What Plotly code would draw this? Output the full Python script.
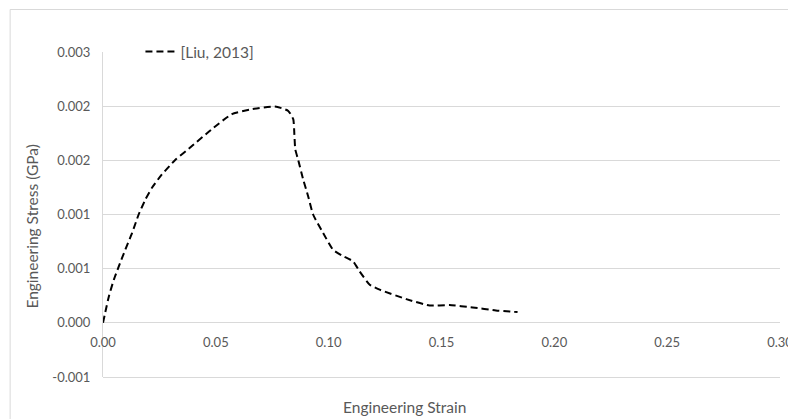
import plotly.graph_objects as go

strain = [0.0, 0.0026, 0.0048, 0.0070, 0.0099, 0.0129, 0.0158, 0.0188, 0.0217, 0.0261,
          0.0320, 0.0394, 0.0482, 0.0571, 0.0659, 0.0762, 0.0821, 0.0843, 0.0848, 0.0852,
          0.0865, 0.0887, 0.0909, 0.0931, 0.0975, 0.1019, 0.1057, 0.1108, 0.1137, 0.1182,
          0.1226, 0.1344, 0.1447, 0.1535, 0.1638, 0.1741, 0.1837]
stress = [0.0, 0.000244, 0.000398, 0.000521, 0.000676, 0.000830, 0.001000, 0.001139, 0.001247, 0.001370,
          0.001503, 0.001632, 0.001787, 0.001926, 0.001972, 0.001997, 0.001956, 0.001880, 0.001741, 0.001602,
          0.001503, 0.001324, 0.001169, 0.001000, 0.000831, 0.000676, 0.000623, 0.000568, 0.000475, 0.000352,
          0.000306, 0.000219, 0.000160, 0.000164, 0.000142, 0.000114, 0.000099]

x_ticks = [0.0, 0.05, 0.10, 0.15, 0.20, 0.25, 0.30]
x_labels = ["0.00", "0.05", "0.10", "0.15", "0.20", "0.25", "0.30"]
y_ticks = [-0.0005, 0.0, 0.0005, 0.0010, 0.0015, 0.0020, 0.0025]
y_labels = ["-0.001", "0.000", "0.001", "0.001", "0.002", "0.002", "0.003"]

FONT = "Lato, Liberation Sans, sans-serif"
GREY = "#595959"
GRID = "#d9d9d9"

L, R, T, B = 102.5, 780.5, 52, 377
W, H = 788, 419

fig = go.Figure()
fig.add_trace(go.Scatter(
    x=strain, y=stress, mode="lines", name="[Liu, 2013]",
    line=dict(color="black", width=2, dash="7px,4px", shape="spline", smoothing=0.5),
))

fig.update_layout(
    width=W, height=H,
    margin=dict(l=L, r=W - R, t=T, b=H - B, pad=0, autoexpand=False),
    paper_bgcolor="white", plot_bgcolor="white",
    font=dict(family=FONT, size=13, color=GREY),
    showlegend=True,
    legend=dict(x=(140 - L) / (R - L), y=1.0, xanchor="left", yanchor="middle",
                bgcolor="rgba(0,0,0,0)", font=dict(family=FONT, size=15.5, color=GREY),
                itemwidth=30),
    xaxis=dict(range=[0, 0.30], tickvals=x_ticks, ticktext=x_labels,
               showgrid=False, zeroline=False, showline=False, ticks="",
               anchor="free", position=(B - 323) / (B - T), automargin=False,
               ticklabelstandoff=10, ticklabeloverflow="allow",
               tickfont=dict(family=FONT, size=13, color=GREY)),
    yaxis=dict(range=[-0.0005, 0.0025], tickvals=y_ticks, ticktext=y_labels,
               showgrid=True, gridcolor=GRID, gridwidth=1, zeroline=False,
               showline=True, linecolor=GRID, linewidth=1, ticks="",
               ticklabelstandoff=9, automargin=False,
               tickfont=dict(family=FONT, size=13, color=GREY)),
    annotations=[
        dict(text="Engineering Strain", xref="paper", yref="paper",
             x=(404 - L) / (R - L), y=(B - 407) / (B - T), xanchor="center", yanchor="middle",
             showarrow=False, font=dict(family=FONT, size=15.5, color=GREY)),
        dict(text="Engineering Stress (GPa)", xref="paper", yref="paper",
             x=(31 - L) / (R - L), y=(B - 226) / (B - T), xanchor="center", yanchor="middle",
             textangle=-90, showarrow=False, font=dict(family=FONT, size=15.5, color=GREY)),
    ],
    shapes=[
        dict(type="rect", xref="paper", yref="paper",
             x0=(9.5 - L) / (R - L), x1=1.3, y0=-0.5, y1=(B - 9.5) / (B - T),
             line=dict(color=GRID, width=1), fillcolor="rgba(0,0,0,0)", layer="below"),
        dict(type="line", xref="paper", yref="paper",
             x0=0, x1=1, y0=-0.5 / (B - T), y1=-0.5 / (B - T),
             line=dict(color=GRID, width=1), layer="above"),
    ],
)

fig.write_html("out.html")
